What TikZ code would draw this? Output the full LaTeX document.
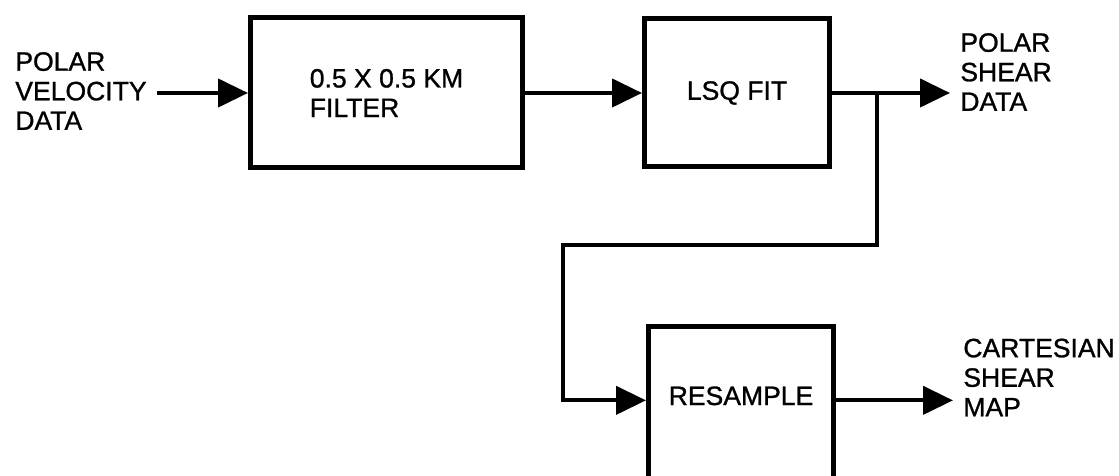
\documentclass[tikz,border=0pt]{standalone}
\usepackage{fontspec}
\setmainfont{Liberation Sans}[FakeBold=1]
\usetikzlibrary{arrows.meta,positioning,calc}

\begin{document}
\begin{tikzpicture}[
  font=\fontsize{15.1}{16.8}\selectfont,
  box/.style={rectangle, draw=black, line width=0.1cm, fill=white, align=left, inner sep=3pt},
  lbl/.style={anchor=west, align=left, inner sep=0.2cm},
  arr/.style={-{Triangle[length=0.6cm,width=0.56cm]}, line width=0.085cm, draw=black},
]
\useasboundingbox (0,0) rectangle (22.38,9.5);

% ---------- top row ----------
\node[lbl] (vin) at (0.1,7.68) {POLAR\\VELOCITY\\DATA};
\node[box, minimum width=5.44cm, minimum height=3.0cm]  (filt) at (7.73,7.64) {0.5 X 0.5 KM\\FILTER};
\node[box, minimum width=3.7cm,  minimum height=2.96cm] (lsq)  at (14.74,7.64) {LSQ FIT};
\node[lbl] (pout) at (19.0,8.06) {POLAR\\SHEAR\\DATA};
% ---------- bottom row (box runs off the lower edge) ----------
\node[box, anchor=north, minimum width=3.7cm, inner sep=0pt, align=center,
      text height=1.57cm, text depth=1.7cm] (res) at (14.82,3.02) {RESAMPLE};
\node[lbl] (cout) at (19.06,1.95) {CARTESIAN\\SHEAR\\MAP};

\coordinate (tap)  at ([xshift=0.9cm]lsq.east);
\coordinate (loop) at (11.26,4.6);

% ---------- arrows ----------
\draw[arr] (vin.east |- filt.west) -- (filt.west);
\draw[arr] (filt.east) -- (lsq.west);
\draw[arr] (lsq.east) -- (lsq.east -| pout.west);
\draw[arr] (tap) |- (loop) |- (res.mid west);
\draw[arr] (res.mid east) -- (res.mid east -| cout.west);
\end{tikzpicture}
\end{document}
